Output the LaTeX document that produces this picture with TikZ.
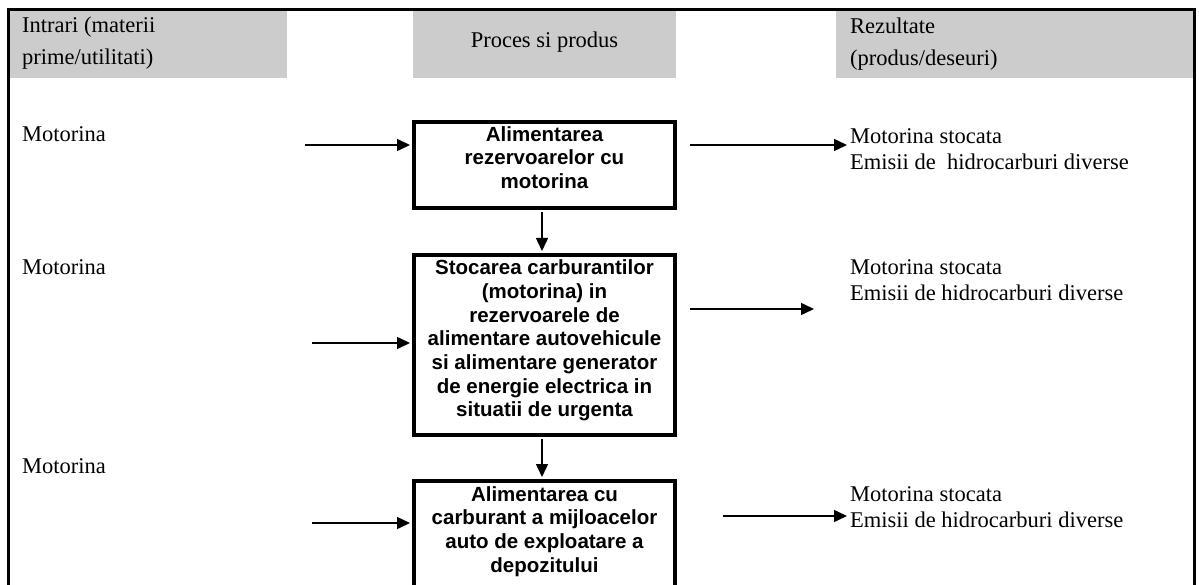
\documentclass[tikz,border=0pt]{standalone}
\usepackage{fontspec}
\setmainfont{Liberation Serif}
\setsansfont{Liberation Sans}
\usetikzlibrary{arrows.meta}
\definecolor{hdrgray}{HTML}{CCCCCC}
\begin{document}
\begin{tikzpicture}[x=1pt,y=-1pt,
  hdr/.style={fill=hdrgray, draw=none},
  frameline/.style={line width=3pt},
  procbox/.style={draw, line width=4pt, inner sep=0pt, minimum width=261pt, anchor=north},
  boxtext/.style={inner sep=0pt, anchor=north, align=center,
    font=\sffamily\bfseries\fontsize{20.5}{23.7}\selectfont},
  hdrtext/.style={inner sep=0pt, align=left, anchor=north west,
    font=\fontsize{22.5}{32}\selectfont},
  restext/.style={inner sep=0pt, align=left, anchor=north west,
    font=\fontsize{22.5}{26.5}\selectfont},
  intext/.style={inner sep=0pt, anchor=base west, font=\fontsize{22.5}{27}\selectfont},
  arr/.style={line width=1.5pt, -{Triangle[length=13pt,width=12pt]}}
]
\useasboundingbox (0,0) rectangle (1199,585);
\clip (0,0) rectangle (1199,585);

% header backgrounds
\fill[hdr] (10,11) rectangle (287,78);
\fill[hdr] (413,11) rectangle (676,78);
\fill[hdr] (836,11) rectangle (1193,78);

% outer frame
\draw[frameline] (8.5,620) -- (8.5,9.5) -- (1194,9.5) -- (1194,620);

% header texts
\node[hdrtext] (h1) at (22,15) {\rule{0pt}{17pt}Intrari (materii\\prime/utilitati)};
\node[inner sep=0pt, anchor=base, font=\fontsize{22.5}{32}\selectfont] (h2) at (544.5,48) {Proces si produs};
\node[hdrtext] (h3) at (850,16) {\rule{0pt}{17pt}Rezultate\\(produs/deseuri)};

% inputs
\node[intext] (m1) at (22,142) {Motorina};
\node[intext] (m2) at (22,275) {Motorina};
\node[intext] (m3) at (22,473) {Motorina};

% process boxes
\node[procbox, minimum height=86pt] (b1) at (544.5,120) {};
\node[procbox, minimum height=180pt] (b2) at (544.5,253) {};
\node[procbox, minimum height=140pt] (b3) at (544.5,479) {};

\node[boxtext] (t1) at (544.5,125) {\rule{0pt}{16pt}Alimentarea\\rezervoarelor cu\\motorina};
\node[boxtext] (t2) at (544.5,258.5) {\rule{0pt}{16pt}Stocarea carburantilor\\(motorina) in\\rezervoarele de\\alimentare autovehicule\\si alimentare generator\\de energie electrica in\\situatii de urgenta};
\node[boxtext] (t3) at (544.5,485) {\rule{0pt}{16pt}Alimentarea cu\\carburant a mijloacelor\\auto de exploatare a\\depozitului};

% results
\node[restext] (r1) at (850,126) {\rule{0pt}{17pt}Motorina stocata\\Emisii de\ \ hidrocarburi diverse};
\node[restext] (r2) at (850,257) {\rule{0pt}{17pt}Motorina stocata\\Emisii de hidrocarburi diverse};
\node[restext] (r3) at (850,484) {\rule{0pt}{17pt}Motorina stocata\\Emisii de hidrocarburi diverse};

% arrow end coordinates
\coordinate (i1) at (305,145);
\coordinate (i2) at (312,343);
\coordinate (i3) at (312,523);
\coordinate (o1s) at (690,145);
\coordinate (o1e) at (847,145);
\coordinate (o2s) at (690,309);
\coordinate (o2e) at (814,309);
\coordinate (o3s) at (723,516);
\coordinate (o3e) at (847,516);

% input arrows
\draw[arr, shorten >=2pt] (i1) -- (i1 -| b1.west);
\draw[arr, shorten >=2pt] (i2) -- (i2 -| b2.west);
\draw[arr, shorten >=2pt] (i3) -- (i3 -| b3.west);

% output arrows
\draw[arr] (o1s) -- (o1e);
\draw[arr] (o2s) -- (o2e);
\draw[arr] (o3s) -- (o3e);

% flow arrows
\draw[arr, shorten <=2pt, shorten >=2pt] ([xshift=-2.5pt]b1.south) -- ([xshift=-2.5pt]b2.north);
\draw[arr, shorten <=2pt, shorten >=2pt] ([xshift=-2.5pt]b2.south) -- ([xshift=-2.5pt]b3.north);
\end{tikzpicture}
\end{document}
